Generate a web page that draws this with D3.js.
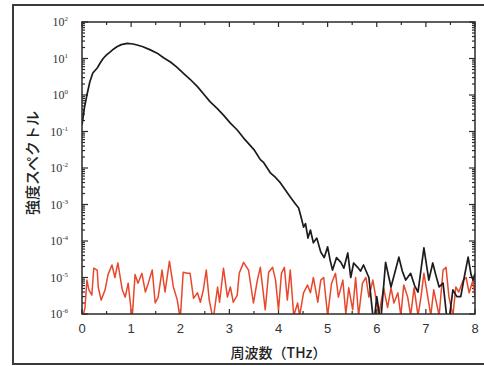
<!DOCTYPE html>
<html>
<head>
<meta charset="utf-8">
<script src="https://cdn.jsdelivr.net/npm/d3@7"></script>
<style>
  body { margin: 0; background: #fff; }
  svg { display: block; }
</style>
</head>
<body>
<script>
// spectrum of the signal (black) and of the noise floor (red)
var blackFreq = [0.00, 0.05, 0.10, 0.16, 0.22, 0.31, 0.37, 0.43, 0.50, 0.57, 0.64, 0.71, 0.80, 0.92,
  1.04, 1.14, 1.24, 1.38, 1.53, 1.66, 1.80, 1.93, 2.06, 2.20, 2.35, 2.48, 2.61, 2.75, 2.88,
  3.02, 3.16, 3.29, 3.40, 3.50, 3.63, 3.70, 3.84, 3.94, 4.04, 4.14, 4.24, 4.33, 4.41, 4.47,
  4.51, 4.55, 4.60, 4.65, 4.71, 4.78, 4.86, 4.93, 5.00, 5.05, 5.10, 5.18, 5.27, 5.33, 5.41,
  5.47, 5.53, 5.61, 5.67, 5.73, 5.84, 5.94, 6.00, 6.08, 6.18, 6.29, 6.37, 6.45, 6.52, 6.59,
  6.69, 6.77, 6.84, 6.96, 7.06, 7.14, 7.20, 7.27, 7.35, 7.45, 7.55, 7.63, 7.71, 7.78, 7.86,
  7.92, 7.96, 8.00];
var blackValue = [0.15, 0.45, 1.0, 2.3, 4.0, 5.5, 7.5, 10, 12.5, 15, 18, 21, 24, 26,
  25, 23, 21, 17.5, 14, 10.5, 8, 5.8, 4.0, 2.7, 1.7, 1.05, 0.65, 0.43, 0.28,
  0.17, 0.11, 0.066, 0.045, 0.032, 0.017, 0.014, 0.0072, 0.0055, 0.0039, 0.0025, 0.0016, 0.0011, 8e-4, 4e-4,
  2.4e-4, 3.0e-4, 1.2e-4, 2e-4, 8.9e-5, 1.2e-4, 5e-5, 3.5e-5, 6.9e-5, 3e-5, 1.6e-5, 3.5e-5, 2.6e-5, 1.8e-5, 4.7e-5,
  1.0e-5, 2.5e-5, 1.9e-5, 1.5e-5, 2.2e-5, 1.0e-5, 5e-7, 3e-6, 6e-7, 2.6e-5, 5.5e-6, 1.4e-5, 3.6e-5, 1.5e-5, 8.5e-6,
  1.3e-5, 6e-6, 4e-6, 6.5e-5, 8.5e-6, 2.5e-5, 1.2e-5, 5.5e-6, 7e-6, 4e-7, 4.6e-6, 3e-6, 3e-6, 1.0e-5, 3.6e-5,
  1.2e-5, 8.5e-6, 1.3e-5];

var redFreq = [0.00, 0.06, 0.10, 0.14, 0.20, 0.24, 0.31, 0.33, 0.39, 0.47, 0.53, 0.61, 0.67, 0.73,
  0.82, 0.88, 0.94, 1.02, 1.08, 1.14, 1.22, 1.29, 1.35, 1.43, 1.49, 1.55, 1.63, 1.69, 1.78,
  1.86, 1.94, 2.00, 2.06, 2.14, 2.20, 2.27, 2.35, 2.41, 2.47, 2.53, 2.59, 2.67, 2.76, 2.80,
  2.88, 2.96, 3.02, 3.08, 3.16, 3.20, 3.29, 3.39, 3.49, 3.57, 3.63, 3.73, 3.80, 3.88, 3.94,
  4.00, 4.06, 4.12, 4.18, 4.24, 4.31, 4.39, 4.43, 4.51, 4.59, 4.65, 4.71, 4.80, 4.86, 4.92,
  5.00, 5.08, 5.16, 5.22, 5.31, 5.37, 5.43, 5.51, 5.57, 5.63, 5.71, 5.78, 5.84, 5.92, 5.98,
  6.04, 6.14, 6.22, 6.29, 6.35, 6.43, 6.49, 6.55, 6.63, 6.69, 6.76, 6.84, 6.90, 6.96, 7.04,
  7.10, 7.16, 7.27, 7.35, 7.41, 7.47, 7.55, 7.61, 7.67, 7.76, 7.82, 7.88, 7.96, 8.00];
var redValue = [7e-7, 1.45e-6, 8.5e-6, 4.6e-6, 3.3e-6, 1.8e-5, 1.6e-5, 5.5e-6, 2.4e-6, 4.6e-6, 1.2e-5, 2.2e-5, 1.0e-5, 2.5e-5,
  4.6e-6, 2.9e-6, 7.0e-6, 7e-7, 1.2e-5, 7.0e-6, 1.3e-5, 4.0e-6, 7.0e-6, 1.6e-5, 2.0e-6, 2.9e-6, 1.6e-5, 4.0e-6, 2.8e-5,
  5.5e-6, 2.4e-6, 7e-7, 1.4e-5, 1.3e-5, 1.3e-5, 2.7e-6, 3.8e-6, 2.1e-6, 4.6e-6, 1.6e-5, 2.4e-6, 7e-7, 5.5e-6, 2.1e-6,
  1.8e-5, 2.9e-6, 5.5e-6, 2.1e-6, 3.3e-6, 1.3e-5, 2.6e-5, 1.6e-5, 2.0e-6, 8.5e-6, 1.9e-5, 1.3e-6, 1.4e-5, 1.9e-5, 8.5e-6,
  1.3e-6, 1.3e-5, 1.9e-5, 2.4e-6, 1.6e-5, 9e-7, 2.0e-6, 9e-7, 3.8e-6, 6.2e-6, 3.8e-6, 1.0e-5, 2.1e-6, 8.5e-6, 1.0e-5,
  9e-7, 7.0e-6, 1.3e-5, 2.9e-6, 8.5e-6, 1.0e-6, 5.2e-6, 1.3e-6, 1.0e-5, 9e-7, 7.0e-6, 1.0e-5, 2.9e-6, 8.5e-6, 2.9e-6,
  9e-7, 5.2e-6, 1.5e-6, 5.2e-6, 2.0e-6, 3.8e-6, 9e-7, 6.2e-6, 2.9e-6, 9e-7, 5.2e-6, 9e-7, 2.9e-6, 1.3e-5, 2.9e-6,
  9e-7, 4.6e-6, 9e-7, 1.6e-5, 1.9e-5, 2.9e-6, 9e-7, 5.5e-6, 4.0e-6, 8.5e-6, 1.0e-5, 3.8e-6, 8.5e-6, 2.9e-6];

var xTicks = [0, 1, 2, 3, 4, 5, 6, 7, 8];
var yExponents = [2, 1, 0, -1, -2, -3, -4, -5, -6];

var xTitle = "周波数（THz）";
var yTitle = "強度スペクトル";

// plot box inside the 484x366 page
var margin = {top: 22, right: 9, bottom: 52, left: 82},
    width = 484 - margin.left - margin.right,
    height = 366 - margin.top - margin.bottom;

var root = d3.select("body").append("svg")
    .attr("width", 484)
    .attr("height", 366);

// outer frame (runs off the right edge like the original)
root.append("rect")
    .attr("x", 13).attr("y", 5)
    .attr("width", 490).attr("height", 359)
    .attr("fill", "none")
    .attr("stroke", "#3a3a3a")
    .attr("stroke-width", 2);

var svg = root.append("g")
    .attr("transform", "translate(" + margin.left + "," + margin.top + ")");

var x = d3.scaleLinear().domain([0, 8]).range([0, width]),
    y = d3.scaleLog().domain([1e-6, 1e2]).range([height, 0]);

svg.append("clipPath").attr("id", "plot-clip")
  .append("rect").attr("width", width).attr("height", height);

// minor log ticks 2..9 in every decade
var minorY = [];
yExponents.slice(0, -1).forEach(function(e) {
  for (var k = 2; k <= 9; k++) minorY.push(k * Math.pow(10, e - 1));
});
var minorX = d3.range(0.5, 8, 1);

var tickColor = "#2a2a2a";

function drawTicks(g, scale, vals, len, side) {
  vals.forEach(function(v) {
    var p = scale(v);
    if (side === "bottom") g.append("line").attr("x1", p).attr("x2", p).attr("y1", height).attr("y2", height - len);
    if (side === "top") g.append("line").attr("x1", p).attr("x2", p).attr("y1", 0).attr("y2", len);
    if (side === "left") g.append("line").attr("x1", 0).attr("x2", len).attr("y1", p).attr("y2", p);
    if (side === "right") g.append("line").attr("x1", width).attr("x2", width - len).attr("y1", p).attr("y2", p);
  });
}

var ticks = svg.append("g").attr("stroke", tickColor).attr("stroke-width", 1.2);
drawTicks(ticks, x, xTicks, 5, "bottom");
drawTicks(ticks, x, xTicks, 5, "top");
drawTicks(ticks, x, minorX, 3, "bottom");
drawTicks(ticks, x, minorX, 3, "top");
var decades = yExponents.map(function(e) { return Math.pow(10, e); });
drawTicks(ticks, y, decades, 6, "left");
drawTicks(ticks, y, decades, 6, "right");
drawTicks(ticks, y, minorY, 3, "left");
drawTicks(ticks, y, minorY, 3, "right");

// data lines
var line = d3.line()
    .x(function(d) { return x(d[0]); })
    .y(function(d) { return y(d[1]); });

var lines = svg.append("g").attr("clip-path", "url(#plot-clip)");

lines.append("path")
    .datum(d3.zip(redFreq, redValue))
    .attr("d", line)
    .attr("fill", "none")
    .attr("stroke", "#e8472c")
    .attr("stroke-width", 1.5)
    .attr("stroke-linejoin", "round");

lines.append("path")
    .datum(d3.zip(blackFreq, blackValue))
    .attr("d", line)
    .attr("fill", "none")
    .attr("stroke", "#1c1c1c")
    .attr("stroke-width", 1.7)
    .attr("stroke-linejoin", "round");

// plot border
svg.append("rect")
    .attr("width", width).attr("height", height)
    .attr("fill", "none")
    .attr("stroke", "#2a2a2a")
    .attr("stroke-width", 1.5);

// x tick labels
svg.append("g").selectAll("text")
  .data(xTicks)
  .enter().append("text")
    .attr("x", function(d) { return x(d); })
    .attr("y", height + 19)
    .attr("text-anchor", "middle")
    .style("font", "13px 'Liberation Sans', Arial, sans-serif")
    .attr("fill", "#333")
    .text(function(d) { return d; });

// y tick labels as 10^n
var yLab = svg.append("g").selectAll("text")
  .data(yExponents)
  .enter().append("text")
    .attr("x", -14)
    .attr("y", function(d) { return y(Math.pow(10, d)) + 4; })
    .attr("text-anchor", "end")
    .style("font", "12px 'Liberation Serif', 'Times New Roman', serif")
    .attr("fill", "#333");
yLab.append("tspan").text("10");
yLab.append("tspan")
    .attr("dy", -5)
    .style("font-size", "7px")
    .text(function(d) { return d; });

// axis titles
root.append("text")
    .attr("x", margin.left + width / 2)
    .attr("y", 358)
    .attr("text-anchor", "middle")
    .style("font", "500 14px 'Noto Sans CJK JP', sans-serif")
    .attr("fill", "#222")
    .text(xTitle);

root.append("text")
    .attr("transform", "translate(38,163)rotate(-90)")
    .attr("text-anchor", "middle")
    .style("font", "500 15px 'Noto Sans CJK JP', sans-serif")
    .attr("fill", "#222")
    .text(yTitle);
</script>
</body>
</html>
